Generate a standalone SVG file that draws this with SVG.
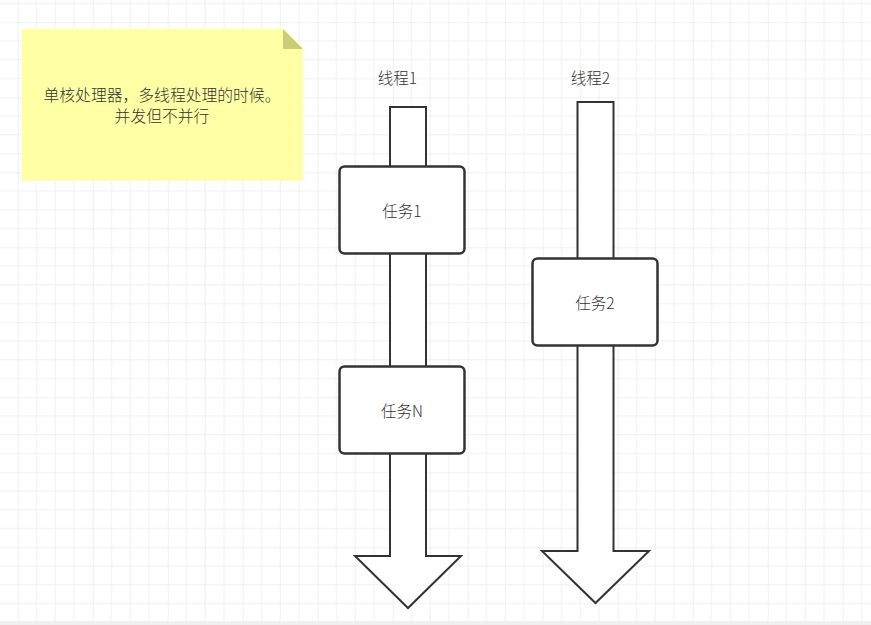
<svg xmlns="http://www.w3.org/2000/svg" width="871" height="625" viewBox="0 0 871 625">
<defs>
<pattern id="grid" x="17.7" y="22.3" width="75" height="75" patternUnits="userSpaceOnUse">
<path d="M18.75 0V75M37.5 0V75M56.25 0V75M0 18.75H75M0 37.5H75M0 56.25H75" stroke="#f0f0f0" stroke-width="1" fill="none"/>
<path d="M0 0V75M0 0H75" stroke="#e3e3e3" stroke-width="1" fill="none"/>
</pattern>
<style>
.lbl{font-family:"Noto Sans CJK SC","Liberation Sans",sans-serif;font-size:15.5px;font-weight:300;fill:#333;text-anchor:middle;dominant-baseline:central}
.note{font-family:"Noto Sans CJK SC","Liberation Sans",sans-serif;font-size:15.8px;font-weight:300;fill:#333;text-anchor:middle;dominant-baseline:central}
.arrow{fill:#fff;stroke:#333;stroke-width:2;stroke-linejoin:miter}
.task{fill:#fff;stroke:#333;stroke-width:2.5}
</style>
</defs>
<rect width="871" height="625" fill="#fff"/>
<rect width="871" height="625" fill="url(#grid)"/>
<rect x="0" y="621" width="871" height="4" fill="#f0f0f0"/>
<g id="note">
<polygon points="22,29 283,29 303,49 303,181 22,181" fill="#ffffa6"/>
<polygon points="283,29 303,49 283,49" fill="#cccc77"/>
<text class="note" x="162" y="94">单核处理器，多线程处理的时候。</text>
<text class="note" x="162" y="115">并发但不并行</text>
</g>
<g id="connectors">
<g id="thread1">
<polygon class="arrow" points="390,107 426,107 426,556 461,556 408,608 355,556 390,556"/>
<text class="lbl" x="397.5" y="76.5">线程1</text>
</g>
<g id="thread2">
<polygon class="arrow" points="577.5,102 613.5,102 613.5,551 649,551 595.5,603 542,551 577.5,551"/>
<text class="lbl" x="590.5" y="76.5">线程2</text>
</g>
</g>
<g id="task1">
<rect class="task" x="339.5" y="166.5" width="125" height="87" rx="5"/>
<text class="lbl" x="402" y="209.5">任务1</text>
</g>
<g id="taskN">
<rect class="task" x="339.5" y="366.5" width="125" height="87" rx="5"/>
<text class="lbl" x="402" y="409.5">任务N</text>
</g>
<g id="task2">
<rect class="task" x="532.5" y="258.5" width="125" height="87" rx="5"/>
<text class="lbl" x="595" y="301.5">任务2</text>
</g>
</svg>
